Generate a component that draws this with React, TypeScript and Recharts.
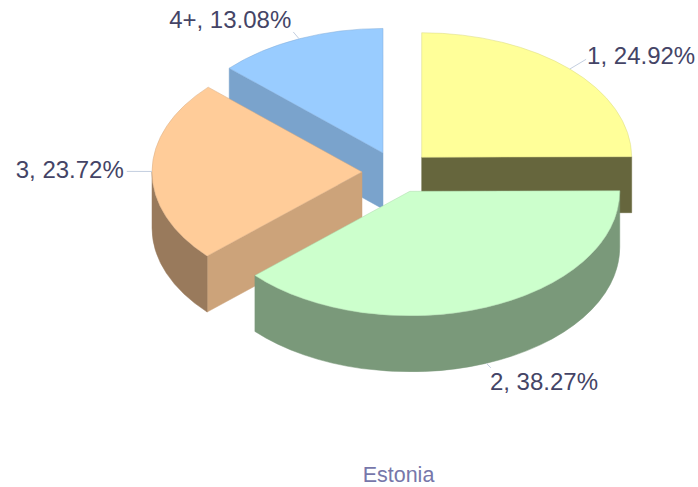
import React from 'react';
import { PieChart, Pie } from 'recharts';

const categories = ['1', '2', '3', '4+'];
const shares = [24.92, 38.27, 23.72, 13.08];
const fills = ['#FFFF99', '#CCFFCC', '#FFCC99', '#99CCFF'];
const chartTitle = 'Estonia';

// back to front, the slices overlap once they are pulled apart
const drawOrder = ['4+', '1', '3', '2'];

const data = categories.map((name, i) => ({ name, value: shares[i], fill: fills[i] }));

const TILT = 0.593;
const DEPTH = 56;
const EXPLODE = 35;
const RAD = Math.PI / 180;

// leader length and text placement for each label
const labelStyle: Record<string, any> = {
    '1': { reachX: 1.11, reachY: 1.11, anchor: 'start', dx: 1, dy: 5 },
    '2': { reachX: 1.06, reachY: 1.04, anchor: 'start', dx: -1, dy: 22 },
    '3': { reachX: 1.12, reachY: 1.12, anchor: 'end', dx: -3, dy: 7 },
    '4+': { reachX: 1.07, reachY: 1.06, anchor: 'end', dx: -2, dy: -4 },
};

const explodedCenter = (cx: number, cy: number, midAngle: number) => ({
    x: cx + EXPLODE * Math.cos(midAngle * RAD),
    y: cy - EXPLODE * TILT * Math.sin(midAngle * RAD),
});

const shade = (hex: string, k: number) => {
    const n = parseInt(hex.slice(1), 16);
    const c = [(n >> 16) & 255, (n >> 8) & 255, n & 255].map(v => Math.round(v * k));
    return `rgb(${c[0]},${c[1]},${c[2]})`;
};

const Slice3D = (props: any) => {
    const { cx, cy, outerRadius, startAngle, endAngle, midAngle, fill } = props;
    const c = explodedCenter(cx, cy, midAngle);
    const rx = outerRadius;
    const ry = outerRadius * TILT;
    const pt = (a: number, drop = 0) => ({
        x: c.x + rx * Math.cos(a * RAD),
        y: c.y - ry * Math.sin(a * RAD) + drop,
    });
    const large = startAngle - endAngle > 180 ? 1 : 0;
    const s = pt(startAngle);
    const e = pt(endAngle);
    const top = `M${c.x},${c.y} L${s.x},${s.y} A${rx},${ry} 0 ${large} 1 ${e.x},${e.y} Z`;

    const cutFace = (a: number) => {
        const p = pt(a);
        return `M${c.x},${c.y} L${p.x},${p.y} L${p.x},${p.y + DEPTH} L${c.x},${c.y + DEPTH} Z`;
    };

    // rim only shows on the lower half of the ellipse
    const from = Math.min(startAngle, 0);
    const to = Math.max(endAngle, -180);
    let rim = null;
    if (from > to) {
        const a = pt(from);
        const b = pt(to);
        const d = `M${a.x},${a.y} A${rx},${ry} 0 0 1 ${b.x},${b.y} L${b.x},${b.y + DEPTH} A${rx},${ry} 0 0 0 ${a.x},${a.y + DEPTH} Z`;
        rim = <path d={d} fill={shade(fill, 0.6)} stroke={shade(fill, 0.6)} strokeWidth={0.5} />;
    }

    return (
        <g>
            {Math.cos(startAngle * RAD) < 0 && (
                <path d={cutFace(startAngle)} fill={shade(fill, 0.8)} stroke={shade(fill, 0.8)} strokeWidth={0.5} />
            )}
            {Math.cos(endAngle * RAD) > 0 && (
                <path d={cutFace(endAngle)} fill={shade(fill, 0.4)} stroke={shade(fill, 0.4)} strokeWidth={0.5} />
            )}
            {rim}
            <path d={top} fill={fill} stroke={shade(fill, 0.85)} strokeWidth={0.5} />
        </g>
    );
};

const SliceLabel = (props: any) => {
    const { cx, cy, outerRadius, midAngle, name, value } = props;
    const st = labelStyle[name];
    const c = explodedCenter(cx, cy, midAngle);
    const cos = Math.cos(midAngle * RAD);
    const sin = Math.sin(midAngle * RAD);
    const rx = outerRadius;
    const ry = outerRadius * TILT;
    const drop = sin < -0.01 && cos > -0.9 ? DEPTH : 0;
    const x1 = c.x + rx * cos;
    const y1 = c.y - ry * sin + drop;
    const x2 = c.x + rx * st.reachX * cos;
    const y2 = c.y - ry * st.reachY * sin + drop;
    return (
        <g>
            <line x1={x1} y1={y1} x2={x2} y2={y2} stroke="#c4cfe0" strokeWidth={1} />
            <text
                x={x2 + st.dx}
                y={y2 + st.dy}
                textAnchor={st.anchor}
                fill="#444466"
                fontSize={24}
                fontFamily="Liberation Sans, Arial, sans-serif"
            >
                {`${name}, ${value.toFixed(2)}%`}
            </text>
        </g>
    );
};

const App: React.FC = () => {
    return (
        <div style={{ position: 'absolute', left: 0, top: 0, width: 698, height: 487 }}>
            <PieChart width={698} height={487} margin={{ top: 0, right: 0, bottom: 0, left: 0 }}>
                {drawOrder.map(layer => (
                    <Pie
                        key={layer}
                        data={data}
                        dataKey="value"
                        nameKey="name"
                        cx={397}
                        cy={172}
                        outerRadius={210}
                        startAngle={90}
                        endAngle={-270}
                        isAnimationActive={false}
                        labelLine={false}
                        label={(p: any) => (p.name === layer ? <SliceLabel {...p} /> : <g />)}
                        shape={(p: any) => (p.name === layer ? <Slice3D {...p} /> : <g />)}
                    />
                ))}
                <text
                    x={398.5}
                    y={482}
                    textAnchor="middle"
                    fill="#7777aa"
                    fontSize={21.5}
                    fontFamily="Liberation Sans, Arial, sans-serif"
                >
                    {chartTitle}
                </text>
            </PieChart>
        </div>
    );
};

export default App;
